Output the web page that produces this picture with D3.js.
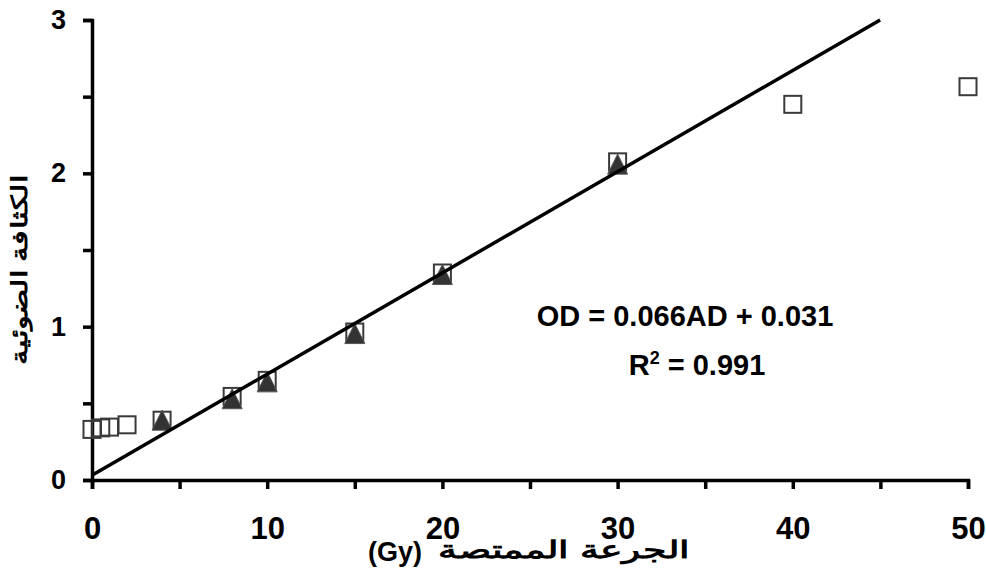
<!DOCTYPE html>
<html>
<head>
<meta charset="utf-8">
<script src="https://cdn.jsdelivr.net/npm/d3@7"></script>
<style>
  body { margin: 0; background: #fff; }
  text { font-family: "Liberation Sans", Arial, sans-serif; font-weight: bold; }
</style>
</head>
<body>
<div id="canvas"></div>
<script>
const width = 986;
const height = 577;

// open squares
const squareDose = [0, 0.5, 1, 2, 4, 8, 10, 15, 20, 30, 40, 50];
const squareOD = [0.33, 0.34, 0.345, 0.36, 0.39, 0.545, 0.65, 0.965, 1.35, 2.075, 2.45, 2.565];

// filled triangles
const triDose = [4, 8, 10, 15, 20, 30];
const triOD = [0.39, 0.53, 0.64, 0.955, 1.34, 2.06];

// fit line OD = 0.066 AD + 0.031
const fitSlope = 0.066;
const fitIntercept = 0.031;

const xTicks = [0, 5, 10, 15, 20, 25, 30, 35, 40, 45, 50];
const yTicks = [0, 0.5, 1, 1.5, 2, 2.5, 3];

const svg = d3.select("#canvas")
    .append("svg")
    .attr("width", width)
    .attr("height", height)
    .style("background-color", "white");

const x = d3.scaleLinear([0, 50], [92, 968]);
const y = d3.scaleLinear([0, 3], [480, 20]);

// axes
const xAxis = svg.append("g")
    .attr("transform", "translate(0,480)")
    .call(d3.axisBottom(x).tickValues(xTicks).tickSize(9).tickPadding(28)
        .tickFormat(d => d % 10 === 0 ? d : ""))
    .attr("font-size", 31)
    .attr("font-weight", "bold");

const yAxis = svg.append("g")
    .attr("transform", "translate(92,0)")
    .call(d3.axisLeft(y).tickValues(yTicks).tickSize(9).tickPadding(17)
        .tickFormat(d => Number.isInteger(d) ? d : ""))
    .attr("font-size", 27)
    .attr("font-weight", "bold");

[xAxis, yAxis].forEach(g => {
    g.attr("font-family", "'Liberation Sans', Arial, sans-serif");
    g.select(".domain").attr("stroke", "#000").attr("stroke-width", 3.5);
    g.selectAll(".tick line").attr("stroke", "#000").attr("stroke-width", 3.5);
    g.selectAll(".tick text").attr("fill", "#000");
});

// squares
const side = 17;
svg.append("g")
    .selectAll("rect")
    .data(squareDose)
    .join("rect")
    .attr("x", (d, i) => x(d) - side / 2)
    .attr("y", (d, i) => y(squareOD[i]) - side / 2)
    .attr("width", side)
    .attr("height", side)
    .attr("fill", "none")
    .attr("stroke", "#3a3a3a")
    .attr("stroke-width", 2);

// triangles
const tw = 20, th = 20;
svg.append("g")
    .selectAll("path")
    .data(triDose)
    .join("path")
    .attr("d", (d, i) => {
        const cx = x(d), cy = y(triOD[i]);
        return `M${cx},${cy - th / 2}L${cx + tw / 2},${cy + th / 2}L${cx - tw / 2},${cy + th / 2}Z`;
    })
    .attr("fill", "#333")
    .attr("stroke", "#555")
    .attr("stroke-width", 1);

// fit line, stops at the top of the plot
const xEnd = (3 - fitIntercept) / fitSlope;
svg.append("line")
    .attr("x1", x(0))
    .attr("y1", y(fitIntercept))
    .attr("x2", x(xEnd))
    .attr("y2", y(fitSlope * xEnd + fitIntercept))
    .attr("stroke", "#000")
    .attr("stroke-width", 3.5);

// equation
svg.append("text")
    .attr("x", 685)
    .attr("y", 326)
    .attr("text-anchor", "middle")
    .style("font-size", "29px")
    .text("OD = 0.066AD + 0.031");

const r2 = svg.append("text")
    .attr("x", 697)
    .attr("y", 375)
    .attr("text-anchor", "middle")
    .style("font-size", "29px");
r2.append("tspan").text("R");
r2.append("tspan").attr("dy", -11).style("font-size", "18px").text("2");
r2.append("tspan").attr("dy", 11).text(" = 0.991");

// axis titles
svg.append("text")
    .attr("transform", "translate(27,270) rotate(-90)")
    .attr("text-anchor", "middle")
    .attr("textLength", 190)
    .attr("lengthAdjust", "spacingAndGlyphs")
    .style("font-size", "22px")
    .text("الكثافة الضوئية");

svg.append("text")
    .attr("x", 395)
    .attr("y", 561)
    .attr("text-anchor", "middle")
    .style("font-size", "27px")
    .text("(Gy)");

svg.append("text")
    .attr("x", 564)
    .attr("y", 558)
    .attr("text-anchor", "middle")
    .attr("textLength", 252)
    .attr("lengthAdjust", "spacingAndGlyphs")
    .style("font-size", "24px")
    .text("الجرعة الممتصة");
</script>
</body>
</html>
